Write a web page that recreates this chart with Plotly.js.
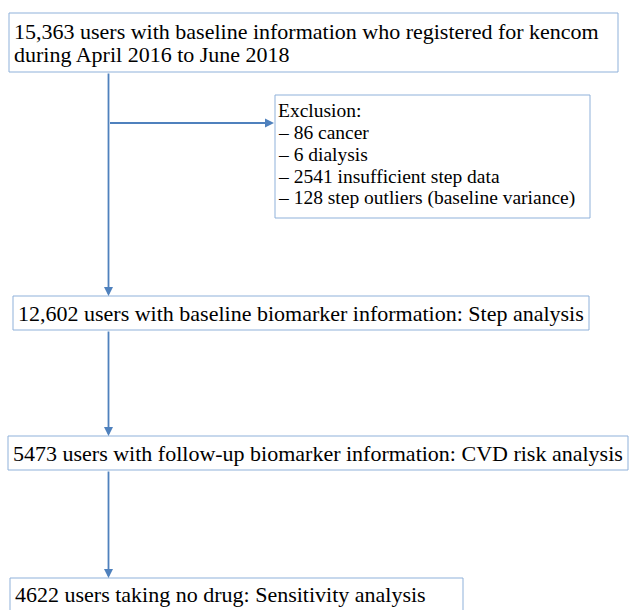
<!DOCTYPE html>
<html>
<head>
<meta charset="utf-8">
<script src="https://cdn.plot.ly/plotly-3.0.1.min.js"></script>
<style>html,body{margin:0;padding:0;background:#fff;}#chart{width:630px;height:610px;}</style>
</head>
<body>
<div id="chart"></div>
<script>
// ---- data ----
var stageCounts = ["15,363", "12,602", "5473", "4622"];
var stageTexts = [
  "users with baseline information who registered for kencom<br>during April 2016 to June 2018",
  "users with baseline biomarker information: Step analysis",
  "users with follow-up biomarker information: CVD risk analysis",
  "users taking no drug: Sensitivity analysis"
];
var exclusionTitle = "Exclusion:";
var exclusionCounts = [86, 6, 2541, 128];
var exclusionReasons = ["cancer", "dialysis", "insufficient step data", "step outliers (baseline variance)"];

// ---- layout geometry ----
var boxes = [
  {x0: 9, x1: 618, y0: 13, y1: 72},
  {x0: 13, x1: 589, y0: 296, y1: 330},
  {x0: 8, x1: 628, y0: 436, y1: 470},
  {x0: 10, x1: 463, y0: 578, y1: 640}
];
var textY = [31, 313, 453, 594];
var lineGap = 23;
var exBox = {x0: 275, x1: 590, y0: 95, y1: 218};
var spineX = 108.5;
var boxLine = {color: "#8FB1DA", width: 1};
var arrowColor = "#4F81BD";
var serif = "Liberation Serif";

var shapes = [];
var annotations = [];
boxes.forEach(function (b) {
  shapes.push({type: "rect", xref: "x", yref: "y", x0: b.x0, x1: b.x1, y0: b.y0, y1: b.y1, line: boxLine, fillcolor: "rgba(0,0,0,0)"});
});
shapes.push({type: "rect", xref: "x", yref: "y", x0: exBox.x0, x1: exBox.x1, y0: exBox.y0, y1: exBox.y1, line: boxLine, fillcolor: "rgba(0,0,0,0)"});

function arrow(x0, y0, x1, y1) {
  annotations.push({x: x1, y: y1, ax: x0, ay: y0, xref: "x", yref: "y", axref: "x", ayref: "y",
    showarrow: true, arrowhead: 2, arrowsize: 1, arrowwidth: 1.8, arrowcolor: arrowColor, text: ""});
}
arrow(spineX, boxes[0].y1, spineX, boxes[1].y0);
arrow(spineX, 123, exBox.x0 - 1, 123);
arrow(spineX, boxes[1].y1, spineX, boxes[2].y0);
arrow(spineX, boxes[2].y1, spineX, boxes[3].y0);

stageCounts.forEach(function (c, i) {
  var lines = (c + " " + stageTexts[i]).split("<br>");
  lines.forEach(function (ln, j) {
    annotations.push({x: boxes[i].x0 + 3, y: textY[i] + j * lineGap, xref: "x", yref: "y", xanchor: "left", yanchor: "middle",
      align: "left", showarrow: false, text: ln,
      font: {family: serif, size: 22, color: "#000"}});
  });
});

var exLines = [exclusionTitle];
exclusionCounts.forEach(function (n, i) { exLines.push("\u2013 " + n + " " + exclusionReasons[i]); });
exLines.forEach(function (t, i) {
  annotations.push({x: exBox.x0 + 1, y: 110 + i * 22, xref: "x", yref: "y", xanchor: "left", yanchor: "middle",
    align: "left", showarrow: false, text: t, font: {family: serif, size: 19.5, color: "#000"}});
});

var layout = {
  width: 630, height: 610,
  margin: {l: 0, r: 0, t: 0, b: 0},
  paper_bgcolor: "#fff", plot_bgcolor: "#fff",
  xaxis: {range: [0, 630], visible: false, fixedrange: true},
  yaxis: {range: [610, 0], visible: false, fixedrange: true},
  shapes: shapes,
  annotations: annotations,
  showlegend: false
};
Plotly.newPlot("chart", [{x: [], y: [], type: "scatter", mode: "markers", hoverinfo: "skip"}], layout, {staticPlot: true, displayModeBar: false});
</script>
</body>
</html>
